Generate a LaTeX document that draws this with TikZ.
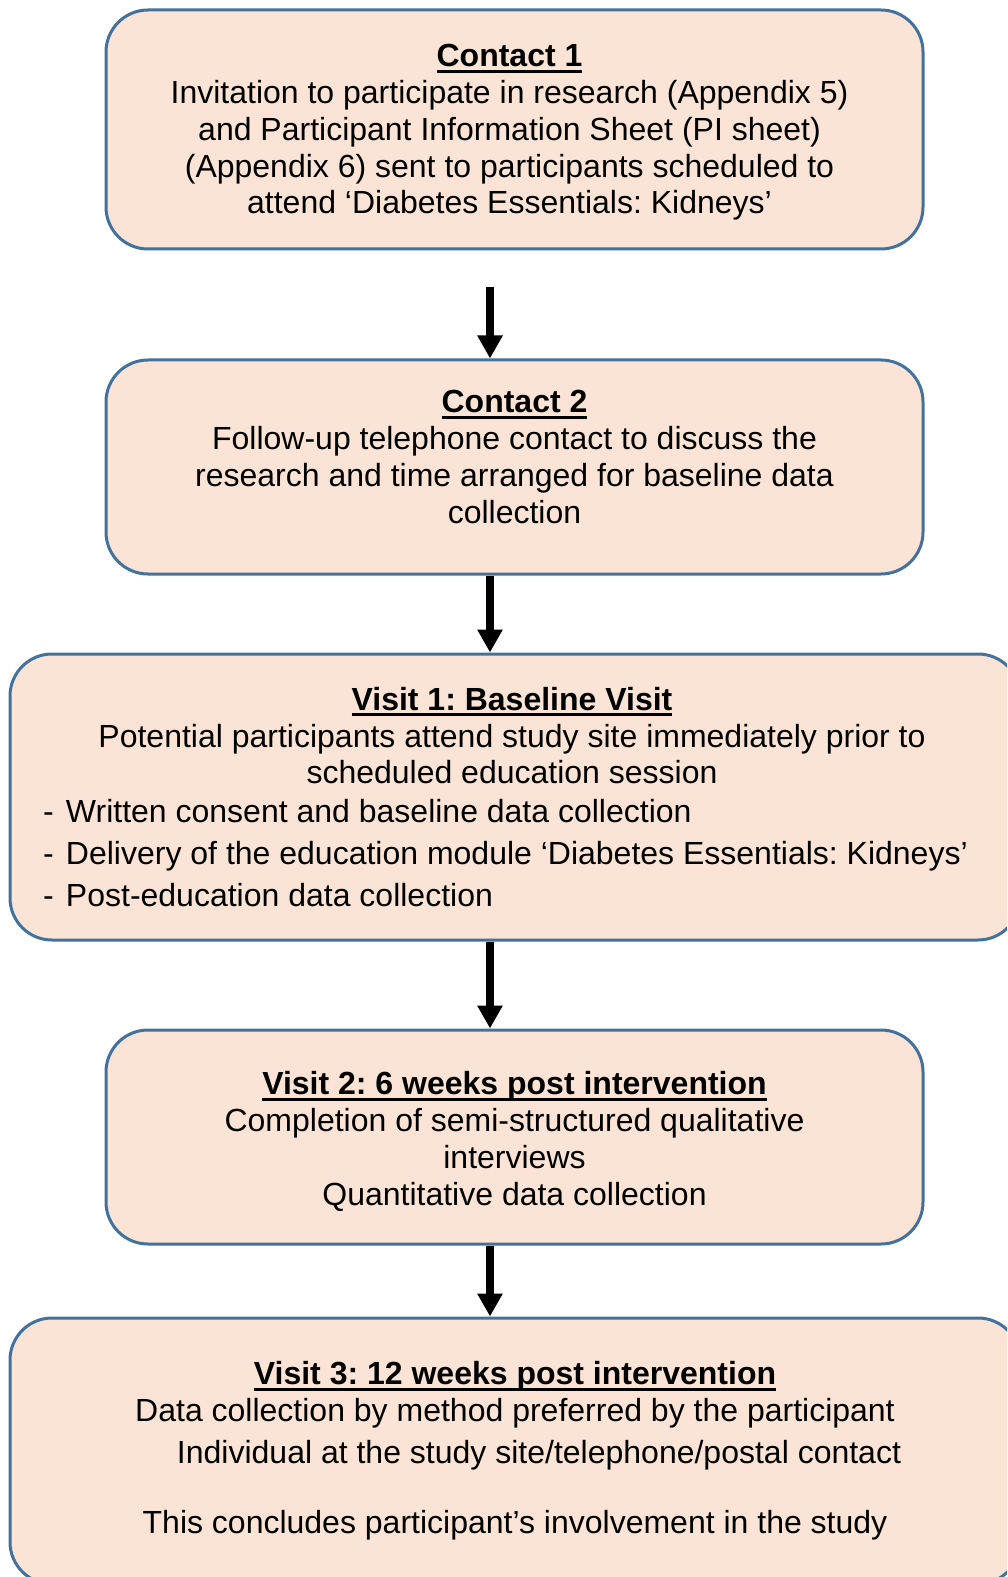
\documentclass[tikz,border=0pt]{standalone}
\usepackage{fontspec}
\setmainfont{Liberation Sans}
\usepackage{tikz}
\usetikzlibrary{arrows.meta}
\definecolor{bordbleu}{HTML}{41719C}
\definecolor{fondsaumon}{HTML}{FBE4D5}
\newcommand{\corpsetude}{\fontsize{16pt}{18.35pt}\selectfont\frenchspacing}
\newsavebox{\boitesoul}
\newcommand{\titreetude}[1]{\sbox{\boitesoul}{\textbf{#1}}\rlap{\rule[-3pt]{\wd\boitesoul}{1.5pt}}\usebox{\boitesoul}}
\newcommand{\puceetude}[1]{\makebox[505pt][l]{\hspace*{18pt}\makebox[11.5pt][l]{-}#1}}

\begin{document}
\begin{tikzpicture}[x=0.5pt,y=-0.5pt]
% définition des paramètres
\tikzstyle boiteetude=[draw=bordbleu,fill=fondsaumon,line width=1.5pt,rounded corners=21pt,inner sep=0pt]
\tikzstyle texteetude=[align=center,font=\corpsetude,inner sep=0pt]
\tikzstyle flecheetude=[line width=4.2pt,-{Triangle[length=11.5pt,width=12pt]}]
\newcommand{\xfleche}{490} % abscisse des flèches
% le cadre
\useasboundingbox (0,0) rectangle (1007,1577);
\clip (0,0) rectangle (1007,1577);
% les boîtes
\node[boiteetude,minimum width=408.5pt,minimum height=119.5pt] (contact1) at (514.5,129.5) {};
\node[boiteetude,minimum width=408.5pt,minimum height=107pt] (contact2) at (514.5,467) {};
\node[boiteetude,minimum width=505pt,minimum height=143pt] (visite1) at (515,797) {};
\node[boiteetude,minimum width=408.5pt,minimum height=107pt] (visite2) at (514.5,1137) {};
\node[boiteetude,minimum width=505pt,minimum height=133pt] (visite3) at (515,1451) {};
% les textes
\node[texteetude] (texte1) at ([xshift=-2.5pt,yshift=-1.5pt]contact1.center)
{\titreetude{Contact 1}\\
Invitation to participate in research (Appendix 5)\\
and Participant Information Sheet (PI sheet)\\
(Appendix 6) sent to participants scheduled to\\
attend ‘Diabetes Essentials: Kidneys’};
\node[texteetude] (texte2) at ([yshift=5pt]contact2.center)
{\titreetude{Contact 2}\\
Follow-up telephone contact to discuss the\\
research and time arranged for baseline data\\
collection};
\node[texteetude] (texte3) at ([xshift=-1.5pt]visite1.center)
{\titreetude{Visit 1: Baseline Visit}\\
Potential participants attend study site immediately prior to\\
scheduled education session\\[0.75pt]
\puceetude{Written consent and baseline data collection}\\[2.75pt]
\puceetude{Delivery of the education module ‘Diabetes Essentials: Kidneys’}\\[2.75pt]
\puceetude{Post-education data collection}};
\node[texteetude] (texte4) at ([yshift=-2.2pt]visite2.center)
{\titreetude{Visit 2: 6 weeks post intervention}\\
Completion of semi-structured qualitative\\
interviews\\
Quantitative data collection};
\node[texteetude] (texte5) at (visite3.center)
{\titreetude{Visit 3: 12 weeks post intervention}\\
Data collection by method preferred by the participant\\[2.75pt]
\hspace*{24pt}Individual at the study site/telephone/postal contact\\[16.8pt]
This concludes participant’s involvement in the study};
% les flèches
\coordinate (depart1) at (\xfleche,287);
\draw[flecheetude] (depart1) -- (contact2.north -| depart1);
\draw[flecheetude] (contact2.south -| depart1) -- (visite1.north -| depart1);
\draw[flecheetude] (visite1.south -| depart1) -- (visite2.north -| depart1);
\draw[flecheetude] (visite2.south -| depart1) -- (visite3.north -| depart1);
\end{tikzpicture}
\end{document}
